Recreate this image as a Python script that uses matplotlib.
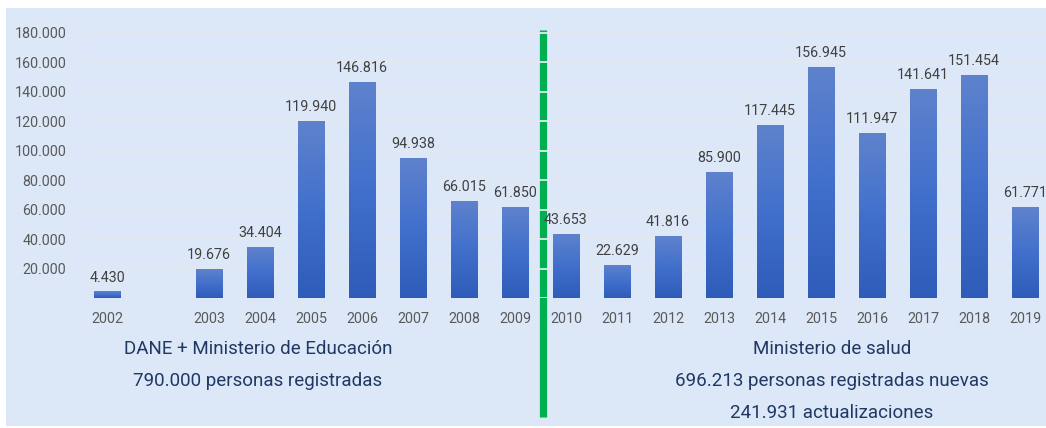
import numpy as np
import matplotlib
matplotlib.use("Agg")
import matplotlib.pyplot as plt
from matplotlib.patches import Rectangle
from matplotlib.colors import LinearSegmentedColormap

# years on the x axis ("" = empty slot between 2002 and 2003)
years = ["2002", "", "2003", "2004", "2005", "2006", "2007", "2008", "2009",
         "2010", "2011", "2012", "2013", "2014", "2015", "2016", "2017", "2018", "2019"]
registros = [4430, None, 19676, 34404, 119940, 146816, 94938, 66015, 61850,
             43653, 22629, 41816, 85900, 117445, 156945, 111947, 141641, 151454, 61771]
yticks = [20000, 40000, 60000, 80000, 100000, 120000, 140000, 160000, 180000]

left_txt = ["DANE + Ministerio de Educación", "790.000 personas registradas"]
right_txt = ["Ministerio de salud", "696.213 personas registradas nuevas", "241.931 actualizaciones"]

def miles(v):
    return f"{v:,.0f}".replace(",", ".")

plt.rcParams["font.family"] = ["Roboto", "DejaVu Sans"]

W, H = 1046, 428
fig = plt.figure(figsize=(W / 100, H / 100), dpi=100, facecolor="white")
# light blue panel
fig.patches.append(Rectangle((6 / W, 2 / H), 1, (H - 10) / H, transform=fig.transFigure,
                             facecolor="#dce8f8", edgecolor="none", zorder=-1))

ax = fig.add_axes([81.5 / W, (H - 298) / H, 969 / W, 268 / H])
ax.set_facecolor("none")
for s in ax.spines.values():
    s.set_visible(False)

x = np.arange(len(years))

# divider between the two sources
ax.plot([8.55, 8.55], [-80500, 182000], color="#00b050", lw=5.2, solid_capstyle="butt",
        clip_on=False, zorder=0.3)

# grid lines (drawn over the green divider)
for t in [0] + yticks:
    ax.axhline(t, color="#e4e9f0", lw=1.3, zorder=0.5)

cmap = LinearSegmentedColormap.from_list("barra", ["#2e5cb8", "#4170cc", "#5f82cc"])
grad = np.linspace(0, 1, 256).reshape(-1, 1)

idx = [i for i, v in enumerate(registros) if v is not None]
vals = [registros[i] for i in idx]
bars = ax.bar(idx, vals, width=0.51, color="#4170cc", zorder=2)
for b, v in zip(bars, vals):
    im = ax.imshow(grad, cmap=cmap, aspect="auto", origin="lower", zorder=2.1,
                   extent=[b.get_x(), b.get_x() + b.get_width(), 0, v])
    im.set_clip_path(b)
    ax.annotate(miles(v), (b.get_x() + b.get_width() / 2, v), xytext=(0, 5),
                textcoords="offset points", ha="center", va="bottom",
                fontsize=10.3, color="#404040", annotation_clip=False)
ax.set_xlim(-0.5, len(years) - 0.5)
ax.set_ylim(0, 182000)

ax.set_xticks(x)
ax.set_xticklabels(years)
ax.set_yticks(yticks)
ax.set_yticklabels([miles(t) for t in yticks])
ax.tick_params(axis="both", length=0, labelsize=10.3, labelcolor="#595959")
ax.tick_params(axis="x", pad=10)
ax.tick_params(axis="y", pad=11)

for k, t in enumerate(left_txt):
    fig.text(258 / W, (H - 349 - 32 * k) / H, t, ha="center", va="center",
             fontsize=13.5, color="#1f3864")
for k, t in enumerate(right_txt):
    fig.text(832 / W, (H - 349 - 32 * k) / H, t, ha="center", va="center",
             fontsize=13.5, color="#1f3864")

fig.savefig("out.png", dpi=100, facecolor="white")
